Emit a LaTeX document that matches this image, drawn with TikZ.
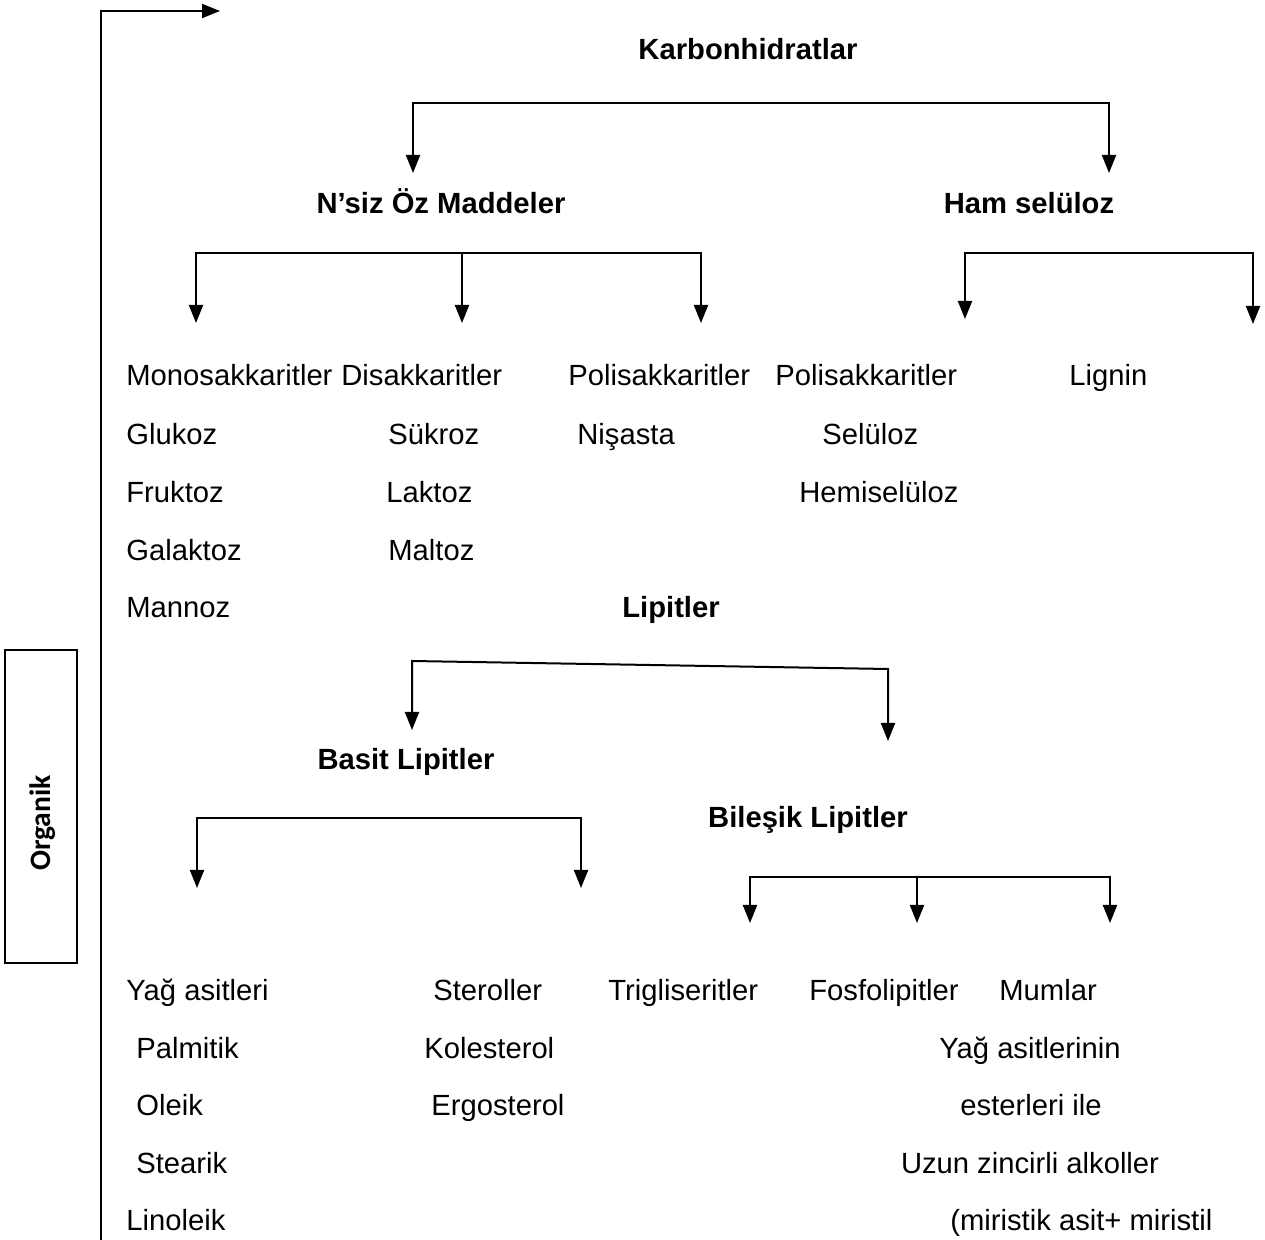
\documentclass[tikz,border=0pt]{standalone}
\usepackage{fontspec}
\setmainfont{Liberation Sans}
\newfontfamily\organikfont{Carlito}
\usepackage{tikz}
\usetikzlibrary{arrows.meta, positioning}
\tikzset{
    item/.style={anchor=west, inner sep=0pt, text height=0.72em, text depth=0pt, font=\fontsize{14.6pt}{16pt}\selectfont},
    centered/.style={inner sep=0pt, text height=0.72em, text depth=0pt, font=\fontsize{14.6pt}{16pt}\selectfont},
    head/.style={inner sep=0pt, text height=0.72em, text depth=0pt, font=\fontsize{14.6pt}{16pt}\selectfont\bfseries},
    flow/.style={-{Triangle[width=7pt,length=9pt]}, line width=1pt},
    split/.style={{Triangle[width=7pt,length=9pt]}-{Triangle[width=7pt,length=9pt]}, line width=1pt},
    sidebox/.style={rectangle, draw, line width=0.8pt, minimum width=36pt, minimum height=156.5pt, inner sep=0pt}
}
\begin{document}
\begin{tikzpicture}[x=0.5pt, y=-0.5pt]
    \useasboundingbox (0,0) rectangle (1265,1240);

    % Organik
    \node[sidebox] (organik) at (41,806.5) {};
    \node[rotate=90, inner sep=0pt, font=\organikfont\fontsize{14.8pt}{16pt}\selectfont\bfseries] (organiklabel) at (43,823) {Organik};
    \coordinate (base) at (101,1240);
    \coordinate (start) at (220,11);
    \draw[flow] (base) |- (start);

    % Karbonhidratlar
    \node[head] (karb) at (748,52) {Karbonhidratlar};
    \coordinate (karbbar) at (760,103);
    \coordinate (karbl) at (413,173);
    \coordinate (karbr) at (1109,173);
    \draw[split] (karbl) |- (karbbar) -| (karbr);

    \node[head] (nsiz) at (441,206) {N’siz Öz Maddeler};
    \node[head] (ham) at (1029,206) {Ham selüloz};

    % N'siz Oz Maddeler branches
    \coordinate (nsizbar) at (462,253);
    \coordinate (nsizl) at (196,323);
    \coordinate (nsizm) at (462,323);
    \coordinate (nsizr) at (701,323);
    \draw[split] (nsizl) |- (nsizbar) -| (nsizr);
    \draw[flow] (nsizbar) -- (nsizm);

    % Ham seluloz branches
    \coordinate (hambar) at (1100,253);
    \coordinate (haml) at (965,319);
    \coordinate (hamr) at (1253,324);
    \draw[split] (haml) |- (hambar) -| (hamr);

    % Seker gruplari
    \node[item] (mono) at (126,378) {Monosakkaritler};
    \node[item] (glukoz) at (126,437) {Glukoz};
    \node[item] (fruktoz) at (126,495) {Fruktoz};
    \node[item] (galaktoz) at (126,553) {Galaktoz};
    \node[item] (mannoz) at (126,610) {Mannoz};

    \node[item] (di) at (341,378) {Disakkaritler};
    \node[item] (sukroz) at (388,437) {Sükroz};
    \node[item] (laktoz) at (386,495) {Laktoz};
    \node[item] (maltoz) at (388,553) {Maltoz};

    \node[item] (poli) at (568,378) {Polisakkaritler};
    \node[item] (nisasta) at (577,437) {Nişasta};

    \node[item] (polih) at (775,378) {Polisakkaritler};
    \node[item] (seluloz) at (822,437) {Selüloz};
    \node[item] (hemi) at (799,495) {Hemiselüloz};

    \node[item] (lignin) at (1069,378) {Lignin};

    % Lipitler
    \node[head] (lipit) at (671,610) {Lipitler};
    \coordinate (lipita) at (412,661);
    \coordinate (lipitb) at (888,669);
    \coordinate (lipitl) at (412,730);
    \coordinate (lipitr) at (888,741);
    \draw[split] (lipitl) -- (lipita) -- (lipitb) -- (lipitr);

    \node[head] (basit) at (406,762) {Basit Lipitler};
    \node[head] (bilesik) at (808,820) {Bileşik Lipitler};

    % Basit Lipitler branches
    \coordinate (basitbar) at (390,818);
    \coordinate (basitl) at (197,888);
    \coordinate (basitr) at (581,888);
    \draw[split] (basitl) |- (basitbar) -| (basitr);

    % Bilesik Lipitler branches
    \coordinate (bilbar) at (917,877);
    \coordinate (bill) at (750,923);
    \coordinate (bilm) at (917,923);
    \coordinate (bilr) at (1110,923);
    \draw[split] (bill) |- (bilbar) -| (bilr);
    \draw[flow] (bilbar) -- (bilm);

    % Yag asitleri ve steroller
    \node[item] (yag) at (126,993) {Yağ asitleri};
    \node[item] (palmitik) at (136,1051) {Palmitik};
    \node[item] (oleik) at (136,1108) {Oleik};
    \node[item] (stearik) at (136,1166) {Stearik};
    \node[item] (linoleik) at (126,1223) {Linoleik};

    \node[item] (sterol) at (433,993) {Steroller};
    \node[item] (kolesterol) at (424,1051) {Kolesterol};
    \node[item] (ergosterol) at (431,1108) {Ergosterol};

    \node[item] (trigli) at (608,993) {Trigliseritler};
    \node[item] (fosfo) at (809,993) {Fosfolipitler};
    \node[item] (mumlar) at (999,993) {Mumlar};

    % Mumlar aciklamasi
    \node[centered] (mum1) at (1030,1051) {Yağ asitlerinin};
    \node[centered] (mum2) at (1031,1108) {esterleri ile};
    \node[centered] (mum3) at (1030,1166) {Uzun zincirli alkoller};
    \node[item] (mum4) at (950,1223) {(miristik asit+ miristil};
\end{tikzpicture}
\end{document}
